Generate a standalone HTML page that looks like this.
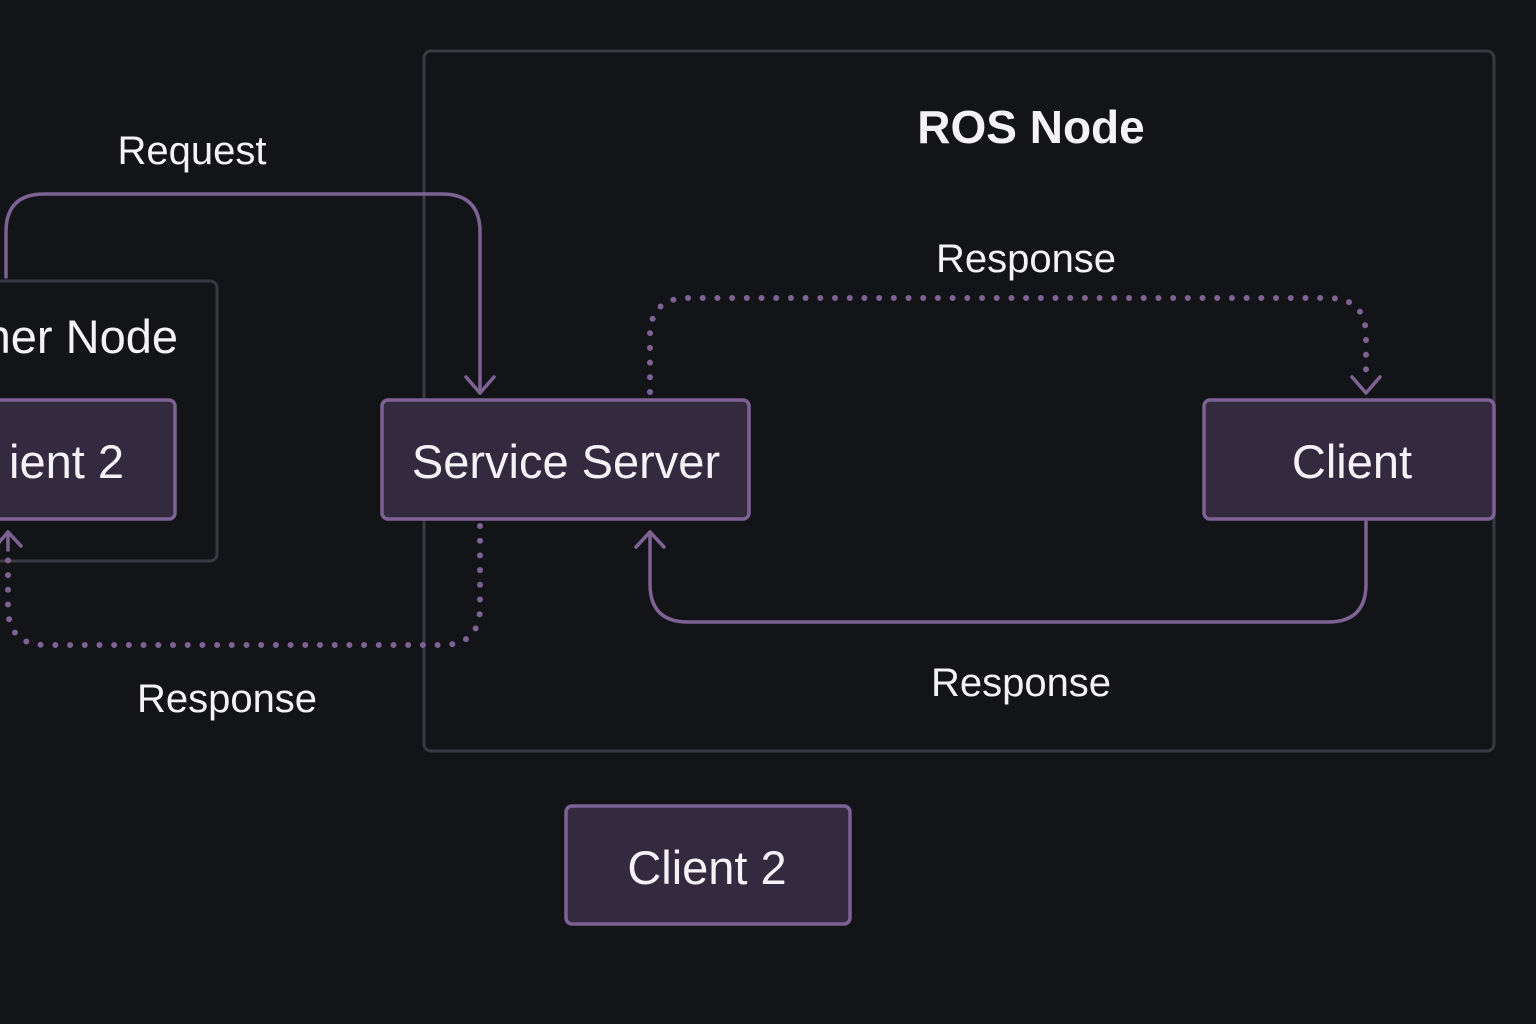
<!DOCTYPE html>
<html><head><meta charset="utf-8"><style>
html,body{margin:0;padding:0;background:#131418;}
svg{display:block}
text{font-family:"Liberation Sans",sans-serif;fill:#f4f2f6}
</style></head><body>
<svg width="1536" height="1024" viewBox="0 0 1536 1024" xmlns="http://www.w3.org/2000/svg">
<rect width="1536" height="1024" fill="#131418"/>
<rect x="424" y="51" width="1070" height="700" rx="7" fill="none" stroke="#393941" stroke-width="3"/>
<rect x="-12" y="281" width="229" height="280" rx="7" fill="none" stroke="#393941" stroke-width="3"/>
<g fill="none" stroke="#7d6293" stroke-width="3.5" stroke-linecap="round" stroke-linejoin="round">
<path d="M6 277 V232 Q6 194 44 194 H442 Q480 194 480 232 V393"/>
<path d="M466 377 L480 393 L494 377"/>
<path d="M1366 522 V584 Q1366 622 1328 622 H688 Q650 622 650 584 V532"/>
<path d="M636 547 L650 532 L664 547"/>
<path d="M-4 546 L8 532 L21 546"/>
<path d="M8 532 V550"/>
<path d="M1352 377 L1366 393 L1380 377"/>
</g>
<g fill="none" stroke="#7d6293" stroke-width="6" stroke-linecap="round" stroke-dasharray="0 14.7">
<path d="M650 392 V336 Q650 298 688 298 H1328 Q1366 298 1366 336 V380"/>
<path d="M480 526 V607 Q480 645 442 645 H46 Q8 645 8 607 V560"/>
</g>
<g fill="#342a40" stroke="#7d6293" stroke-width="3.5">
<rect x="-12" y="400" width="187" height="119" rx="6"/>
<rect x="382" y="400" width="367" height="119" rx="6"/>
<rect x="1204" y="400" width="290" height="119" rx="6"/>
<rect x="566" y="806" width="284" height="118" rx="6"/>
</g>
<g font-size="47">
<text x="124" y="478" text-anchor="end">ient 2</text>
<text x="566" y="478" text-anchor="middle">Service Server</text>
<text x="1352" y="478" text-anchor="middle">Client</text>
<text x="707" y="884" text-anchor="middle">Client 2</text>
<text x="178" y="353" text-anchor="end">her Node</text>
</g>
<text x="1031" y="143" font-size="46" font-weight="bold" text-anchor="middle">ROS Node</text>
<g font-size="40">
<text x="192" y="164" text-anchor="middle">Request</text>
<text x="1026" y="272" text-anchor="middle">Response</text>
<text x="1021" y="696" text-anchor="middle">Response</text>
<text x="227" y="712" text-anchor="middle">Response</text>
</g>
</svg>
</body></html>
